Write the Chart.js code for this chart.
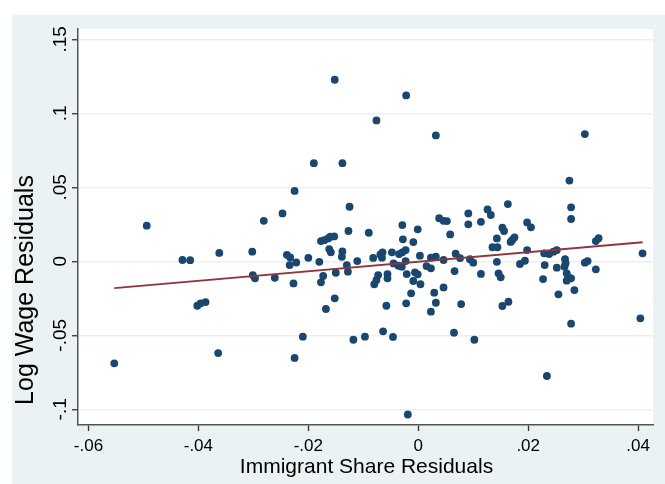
<!DOCTYPE html>
<html>
<head>
<meta charset="utf-8">
<script src="https://cdn.jsdelivr.net/npm/chart.js@4.4.0/dist/chart.umd.min.js"></script>
<style>
  html, body { margin: 0; padding: 0; background: #fff; }
  canvas { display: block; }
</style>
</head>
<body>
<canvas id="myChart" width="665" height="484"></canvas>
<script>
// residuals
const immigrantShare = [
  -0.0152, -0.0022, -0.0076, 0.0032, 0.0303, -0.0190, -0.0138, 0.0275, -0.0225, -0.0125,
  -0.0247, 0.0278, 0.0278, 0.0163, 0.0091, 0.0126, 0.0132, -0.0494, -0.0281, 0.0038,
  0.0046, 0.0052, 0.0091, 0.0114, 0.0198, 0.0205, -0.0029, -0.0001, 0.0153, 0.0156,
  -0.0090, -0.0127, 0.0058, 0.0175, 0.0171, 0.0168, 0.0143, -0.0028, -0.0009, 0.0328,
  0.0323, -0.0177, -0.0171, -0.0164, -0.0160, -0.0153, 0.0135, 0.0144, -0.0138, -0.0162,
  -0.0159, -0.0302, -0.0362, -0.0429, -0.0415, -0.0239, -0.0233, -0.0222, -0.0234, -0.0200,
  -0.0180, -0.0139, -0.0130, -0.0128, -0.0111, -0.0082, -0.0069, -0.0065, -0.0066, -0.0048,
  -0.0035, -0.0029, -0.0023, -0.0045, -0.0036, -0.0030, -0.0023, 0.0003, 0.0023, 0.0032,
  0.0046, 0.0068, 0.0076, 0.0094, 0.0100, 0.0143, 0.0015, 0.0023, 0.0066, 0.0114,
  0.0146, 0.0150, 0.0198, 0.0194, 0.0185, 0.0229, 0.0238, 0.0246, 0.0252, 0.0230,
  0.0252, 0.0267, 0.0268, 0.0266, 0.0270, 0.0273, 0.0278, 0.0270, 0.0227, 0.0303,
  0.0308, 0.0323, 0.0284, 0.0255, 0.0278, 0.0234, 0.0404, 0.0408, 0.0164, 0.0153,
  0.0046, 0.0029, 0.0032, 0.0023, 0.0078, 0.0065, 0.0102, 0.0004, -0.0006, -0.0001,
  -0.0009, -0.0013, -0.0022, -0.0058, -0.0056, -0.0056, -0.0073, -0.0076, -0.0080, -0.0021,
  -0.0064, -0.0046, -0.0097, -0.0118, -0.0019, -0.0168, -0.0152, -0.0177, -0.0173, -0.0150,
  -0.0210, -0.0225, -0.0227, -0.0261, -0.0301, -0.0297, -0.0402, -0.0396, -0.0387, -0.0364,
  -0.0553
];
const logWage = [
  0.1227, 0.1121, 0.0952, 0.0851, 0.0860, 0.0663, 0.0663, 0.0546, 0.0476, 0.0369,
  0.0324, 0.0365, 0.0286, 0.0387, 0.0324, 0.0351, 0.0313, 0.0241, 0.0274, 0.0291,
  0.0274, 0.0272, 0.0250, 0.0267, 0.0263, 0.0230, 0.0245, 0.0216, 0.0227, 0.0205,
  0.0193, 0.0205, 0.0182, 0.0162, 0.0144, 0.0131, 0.0155, 0.0149, 0.0130, 0.0156,
  0.0137, 0.0137, 0.0143, 0.0155, 0.0166, 0.0168, 0.0095, 0.0095, 0.0067, 0.0083,
  0.0061, 0.0065, 0.0057, 0.0009, 0.0008, 0.0044, 0.0026, -0.0008, -0.0025, 0.0024,
  -0.0003, 0.0031, -0.0025, -0.0070, 0.0002, 0.0023, 0.0047, 0.0061, 0.0025, 0.0061,
  0.0049, 0.0061, 0.0076, -0.0014, -0.0030, -0.0036, 0.0002, 0.0038, 0.0025, 0.0031,
  0.0009, 0.0052, 0.0022, 0.0014, -0.0009, -0.0003, -0.0032, -0.0047, -0.0066, -0.0085,
  -0.0081, -0.0108, 0.0076, 0.0004, -0.0018, 0.0054, 0.0049, 0.0065, 0.0076, -0.0025,
  -0.0043, 0.0014, -0.0013, -0.0036, -0.0081, -0.0108, -0.0115, -0.0131, -0.0120, -0.0009,
  0.0002, -0.0054, -0.0194, -0.0223, -0.0421, -0.0775, -0.0385, 0.0054, -0.0273, -0.0302,
  -0.0176, -0.0212, -0.0280, -0.0340, -0.0289, -0.0482, -0.0530, -0.0155, -0.0074, -0.0088,
  -0.0133, -0.0216, -0.0284, -0.0300, -0.0086, -0.0115, -0.0093, -0.0126, -0.0155, -0.0086,
  -0.0473, -0.0511, -0.0509, -0.0530, -0.1035, -0.0322, -0.0250, -0.0142, -0.0099, -0.0077,
  -0.0509, -0.0653, -0.0149, -0.0111, -0.0093, -0.0115, -0.0300, -0.0284, -0.0275, -0.0620,
  -0.0689
];

// fitted line end points
const fitX = [-0.0553, 0.0408];
const fitY = [-0.0181, 0.0129];

const xTicks = [-0.06, -0.04, -0.02, 0, 0.02, 0.04];
const xTickLabels = ['-.06', '-.04', '-.02', '0', '.02', '.04'];
const yTicks = [-0.1, -0.05, 0, 0.05, 0.1, 0.15];
const yTickLabels = ['-.1', '-.05', '0', '.05', '.1', '.15'];

const xTitle = 'Immigrant Share Residuals';
const yTitle = 'Log Wage Residuals';

const FONT = "'Liberation Sans', Arial, Helvetica, sans-serif";

function labelFor(ticks, labels, v) {
  let best = 0;
  for (let i = 1; i < ticks.length; i++) {
    if (Math.abs(ticks[i] - v) < Math.abs(ticks[best] - v)) best = i;
  }
  return labels[best];
}

const stataLook = {
  id: 'stataLook',
  beforeDraw(chart) {
    const { ctx, chartArea: a } = chart;
    ctx.save();
    ctx.fillStyle = '#ffffff';
    ctx.fillRect(0, 0, chart.width, chart.height);
    ctx.fillStyle = '#EAF2F3';
    ctx.fillRect(12, 15, chart.width - 12, chart.height - 15);
    ctx.fillStyle = '#ffffff';
    ctx.fillRect(a.left, a.top, a.right - a.left, a.bottom - a.top);
    ctx.restore();
  },
  afterDraw(chart) {
    const { ctx, chartArea: a } = chart;
    ctx.save();
    ctx.fillStyle = '#000';
    ctx.textAlign = 'center';
    ctx.textBaseline = 'middle';
    ctx.font = '21px ' + FONT;
    ctx.fillText(xTitle, (a.left + a.right) / 2 + 1, 467.5);
    ctx.translate(26.5, 290);
    ctx.rotate(-Math.PI / 2);
    ctx.font = '25px ' + FONT;
    ctx.fillText(yTitle, 0, 0);
    ctx.restore();
  }
};

const ctx = document.getElementById('myChart').getContext('2d');

const myChart = new Chart(ctx, {
  type: 'scatter',
  data: {
    datasets: [{
      type: 'line',
      data: fitX.map((x, i) => ({ x: x, y: fitY[i] })),
      borderColor: '#90353B',
      borderWidth: 1.8,
      pointRadius: 0,
      fill: false,
      order: 0
    }, {
      data: immigrantShare.map((x, i) => ({ x: x, y: logWage[i] })),
      backgroundColor: '#1A476F',
      borderWidth: 0,
      pointRadius: 3.9,
      order: 1
    }]
  },
  options: {
    responsive: false,
    animation: false,
    layout: { padding: { left: 0, top: 29, right: 12, bottom: 0 } },
    plugins: {
      legend: { display: false },
      tooltip: { enabled: false }
    },
    scales: {
      x: {
        type: 'linear',
        min: -0.0619,
        max: 0.0427,
        afterFit: s => { s.height = 59; },
        afterBuildTicks: s => { s.ticks = xTicks.map(v => ({ value: v })); },
        ticks: {
          callback: v => labelFor(xTicks, xTickLabels, v),
          font: { size: 17, family: FONT },
          color: '#000',
          padding: 5,
          maxRotation: 0,
          autoSkip: false
        },
        grid: {
          drawOnChartArea: false,
          drawTicks: true,
          tickLength: 6,
          tickColor: '#333',
          tickWidth: 1.3
        },
        border: { display: true, color: '#555', width: 1.5 }
      },
      y: {
        type: 'linear',
        min: -0.1106,
        max: 0.157,
        afterFit: s => { s.width = 78; },
        afterBuildTicks: s => { s.ticks = yTicks.map(v => ({ value: v })); },
        ticks: {
          callback: v => labelFor(yTicks, yTickLabels, v),
          font: { size: 19, family: FONT },
          color: '#000',
          minRotation: 90,
          maxRotation: 90,
          crossAlign: 'center',
          padding: -5,
          autoSkip: false
        },
        grid: {
          color: '#E8F0F1',
          lineWidth: 1.5,
          drawTicks: true,
          tickLength: 6,
          tickColor: '#333',
          tickWidth: 1.3
        },
        border: { display: true, color: '#555', width: 1.5 }
      }
    }
  },
  plugins: [stataLook]
});
</script>
</body>
</html>
